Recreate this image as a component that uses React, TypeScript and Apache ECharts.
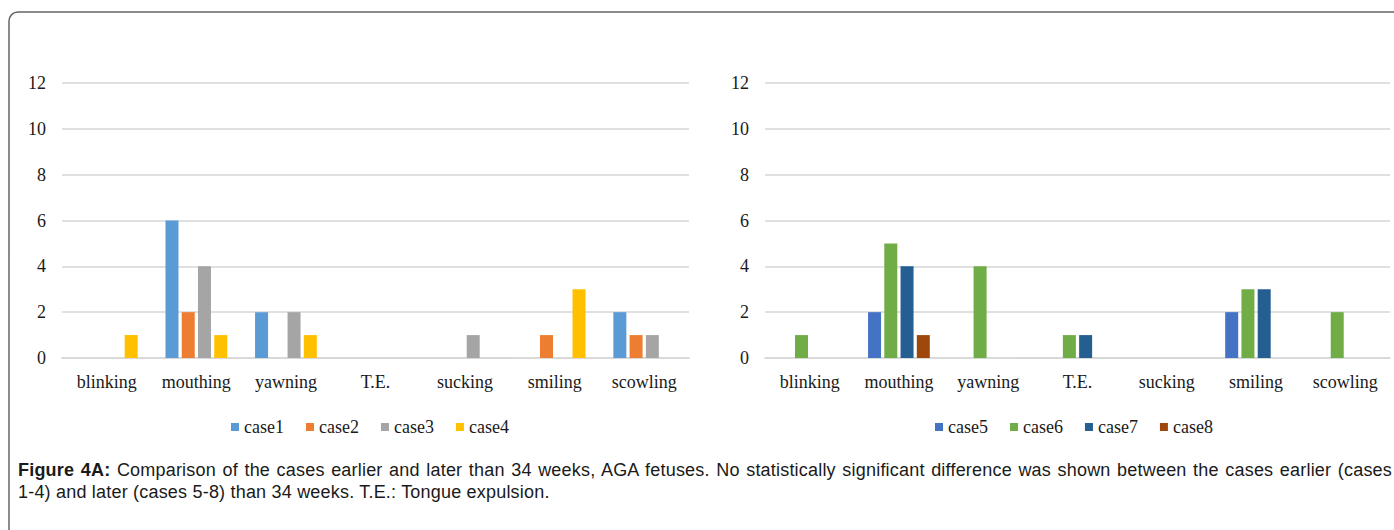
import React, { useEffect, useRef } from "react";
import * as echarts from "echarts";

const categories = ["blinking", "mouthing", "yawning", "T.E.", "sucking", "smiling", "scowling"];

const earlyNames = ["case1", "case2", "case3", "case4"];
const case1 = [0, 6, 2, 0, 0, 0, 2];
const case2 = [0, 2, 0, 0, 0, 1, 1];
const case3 = [0, 4, 2, 0, 1, 0, 1];
const case4 = [1, 1, 1, 0, 0, 3, 0];

const lateNames = ["case5", "case6", "case7", "case8"];
const case5 = [0, 2, 0, 0, 0, 2, 0];
const case6 = [1, 5, 4, 1, 0, 3, 2];
const case7 = [0, 4, 0, 1, 0, 3, 0];
const case8 = [0, 1, 0, 0, 0, 0, 0];

const earlyColors = ["#5b9bd5", "#ed7d31", "#a5a5a5", "#ffc000"];
const lateColors = ["#4472c4", "#70ad47", "#255e91", "#9e480e"];

const yMin = 0;
const yMax = 12;
const yStep = 2;

const captionBold = "Figure 4A:";
const captionLine1 =
  " Comparison of the cases earlier and later than 34 weeks, AGA fetuses. No statistically significant difference was shown between the cases earlier (cases";
const captionLine2 = "1-4) and later (cases 5-8) than 34 weeks. T.E.: Tongue expulsion.";

const serif = "'Liberation Serif', 'Times New Roman', serif";
const sans = "'Liberation Sans', Arial, sans-serif";

export default function App() {
  const ref = useRef<HTMLDivElement>(null);

  useEffect(() => {
    if (!ref.current) return;
    const chart = echarts.init(ref.current, undefined, { renderer: "svg" });

    const gridLine = { color: "#d6d6d6", width: 1.5 };
    const labelStyle = { fontFamily: serif, fontSize: 18, color: "#1a1a1a" };

    const makeX = (gridIndex: number) => ({
      type: "category",
      gridIndex,
      data: categories,
      axisLine: { show: true, lineStyle: gridLine },
      axisTick: { show: false },
      axisLabel: { ...labelStyle, margin: 15, interval: 0 },
    });
    const makeY = (gridIndex: number) => ({
      type: "value",
      gridIndex,
      min: yMin,
      max: yMax,
      interval: yStep,
      axisLine: { show: false },
      axisTick: { show: false },
      splitLine: { show: true, lineStyle: gridLine },
      axisLabel: { ...labelStyle, margin: 16 },
    });

    const earlyData = [case1, case2, case3, case4];
    const lateData = [case5, case6, case7, case8];

    const series: any[] = [];
    earlyNames.forEach((n, i) =>
      series.push({
        type: "bar",
        name: n,
        xAxisIndex: 0,
        yAxisIndex: 0,
        data: earlyData[i],
        barWidth: 13,
        barGap: "25%",
        itemStyle: { color: earlyColors[i] },
      })
    );
    lateNames.forEach((n, i) =>
      series.push({
        type: "bar",
        name: n,
        xAxisIndex: 1,
        yAxisIndex: 1,
        data: lateData[i],
        barWidth: 13,
        barGap: "25%",
        itemStyle: { color: lateColors[i] },
      })
    );

    const legendCommon = {
      orient: "horizontal",
      top: 413,
      itemWidth: 8,
      itemHeight: 8,
      itemGap: 22,
      icon: "rect",
      textStyle: { fontFamily: serif, fontSize: 18, color: "#1a1a1a" },
    };

    chart.setOption({
      animation: false,
      backgroundColor: "#ffffff",
      graphic: [
        {
          type: "rect",
          shape: { x: 9, y: 12, width: 1500, height: 700, r: 9 },
          style: { fill: "none", stroke: "#666666", lineWidth: 1.5 },
          silent: true,
        },
      ],
      grid: [
        { left: 62, right: 705, top: 83, height: 275 },
        { left: 765, right: 4, top: 83, height: 275 },
      ],
      xAxis: [makeX(0), makeX(1)],
      yAxis: [makeY(0), makeY(1)],
      legend: [
        { ...legendCommon, left: 226, data: earlyNames },
        { ...legendCommon, left: 930, data: lateNames },
      ],
      series,
    });

    return () => chart.dispose();
  }, []);

  return (
    <div
      style={{
        position: "fixed",
        left: 0,
        top: 0,
        width: 1394,
        height: 530,
        background: "#ffffff",
        overflow: "hidden",
      }}
    >
      <div ref={ref} style={{ position: "absolute", left: 0, top: 0, width: 1394, height: 530 }} />
      <div
        style={{
          position: "absolute",
          left: 18,
          top: 459,
          width: 1374,
          fontFamily: sans,
          fontSize: 18,
          letterSpacing: 0.2,
          lineHeight: "22px",
          color: "#1a1a1a",
        }}
      >
        <div style={{ textAlign: "justify", textAlignLast: "justify" as any }}>
          <b>{captionBold}</b>
          {captionLine1}
        </div>
        <div>{captionLine2}</div>
      </div>
    </div>
  );
}
